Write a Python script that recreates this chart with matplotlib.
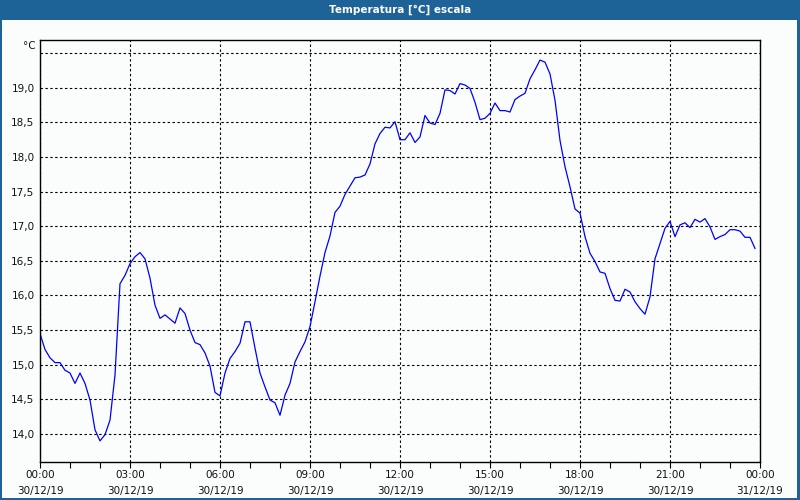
import numpy as np
import pandas as pd
import matplotlib
matplotlib.use("Agg")
import matplotlib.pyplot as plt
import matplotlib.dates as mdates
from matplotlib.patches import Rectangle

title = "Temperatura [°C] escala"
unit = "°C"
start = "2019-12-30 00:00"
step = "10min"

temps = [
    15.45, 15.22, 15.10, 15.03, 15.03, 14.92, 14.88, 14.73, 14.88, 14.73,
    14.49, 14.06, 13.90, 13.99, 14.20, 14.85, 16.17, 16.29, 16.46, 16.56,
    16.62, 16.53, 16.25, 15.86, 15.67, 15.72, 15.66, 15.60, 15.82, 15.74,
    15.50, 15.32, 15.29, 15.17, 14.98, 14.60, 14.55, 14.88, 15.09, 15.19,
    15.31, 15.62, 15.62, 15.24, 14.88, 14.68, 14.49, 14.45, 14.27, 14.56,
    14.73, 15.04, 15.19, 15.33, 15.55, 15.91, 16.28, 16.62, 16.86, 17.20,
    17.29, 17.46, 17.58, 17.70, 17.71, 17.74, 17.90, 18.19, 18.34, 18.43,
    18.42, 18.51, 18.25, 18.25, 18.35, 18.21, 18.29, 18.60, 18.49, 18.47,
    18.63, 18.97, 18.96, 18.91, 19.06, 19.04, 18.99, 18.79, 18.54, 18.56,
    18.63, 18.78, 18.67, 18.67, 18.65, 18.83, 18.88, 18.92, 19.13, 19.26,
    19.40, 19.37, 19.20, 18.82, 18.24, 17.86, 17.57, 17.25, 17.19, 16.85,
    16.61, 16.49, 16.34, 16.32, 16.10, 15.93, 15.92, 16.09, 16.05, 15.91,
    15.81, 15.73, 15.98, 16.53, 16.75, 16.97, 17.07, 16.85, 17.02, 17.05,
    16.98, 17.10, 17.06, 17.11, 16.99, 16.81, 16.85, 16.88, 16.95, 16.95,
    16.93, 16.84, 16.84, 16.68,
]
ytick_values = [14.0, 14.5, 15.0, 15.5, 16.0, 16.5, 17.0, 17.5, 18.0, 18.5, 19.0, 19.5]
ytick_labels = ["14,0", "14,5", "15,0", "15,5", "16,0", "16,5", "17,0", "17,5",
                "18,0", "18,5", "19,0", ""]

plt.rcParams['font.family'] = ['DejaVu Sans']

times = pd.date_range(start, periods=len(temps), freq=step)
t0 = pd.Timestamp(start)
t1 = t0 + pd.Timedelta(hours=24)

bg = '#fbfdfd'
fig = plt.figure(figsize=(8, 5), dpi=100, facecolor=bg)
ax = fig.add_axes([0.05, 0.076, 0.9, 0.844])
ax.set_facecolor(bg)

ax.plot(times, temps, color='#0000ff', lw=0.9)

ax.set_xlim(t0, t1)
ax.set_ylim(13.595, 19.69)

ax.set_yticks(ytick_values)
ax.set_yticklabels(ytick_labels, fontsize=7.5, color='#111111')
ax.tick_params(axis='y', length=0, pad=4)

ax.xaxis.set_major_locator(mdates.HourLocator(byhour=range(0, 24, 3)))
ax.xaxis.set_minor_locator(mdates.HourLocator())
ax.xaxis.set_major_formatter(mdates.DateFormatter("%H:%M\n%d/%m/%y"))
ax.tick_params(axis='x', which='both', direction='out', length=4, width=0.8,
               color='black', labelsize=7.5, pad=1.5, labelcolor='#111111')
for lab in ax.get_xticklabels():
    lab.set_linespacing(1.75)

ax.grid(True, which='major', color='black', linestyle=(0, (2.2, 2.2)), lw=0.8)
for s in ax.spines.values():
    s.set_color('black')
    s.set_linewidth(1.0)

fig.text(36 / 800, 1 - 46 / 500, unit, ha='right', va='center', fontsize=7.5, color='#111111')

# title bar and window border
blue = '#1e6398'
fig.add_artist(Rectangle((0, 0.96), 1, 0.04, transform=fig.transFigure,
                         facecolor=blue, edgecolor='none'))
fig.text(0.5, 0.98, title, ha='center', va='center', fontsize=7.5,
         fontweight='bold', color='white')
fig.add_artist(Rectangle((0, 0), 2 / 800, 1, transform=fig.transFigure, facecolor=blue, edgecolor='none'))
fig.add_artist(Rectangle((1 - 3 / 800, 0), 3 / 800, 1, transform=fig.transFigure, facecolor=blue, edgecolor='none'))
fig.add_artist(Rectangle((0, 0), 1, 2 / 500, transform=fig.transFigure, facecolor=blue, edgecolor='none'))

fig.savefig("out.png", dpi=100, facecolor=bg)
